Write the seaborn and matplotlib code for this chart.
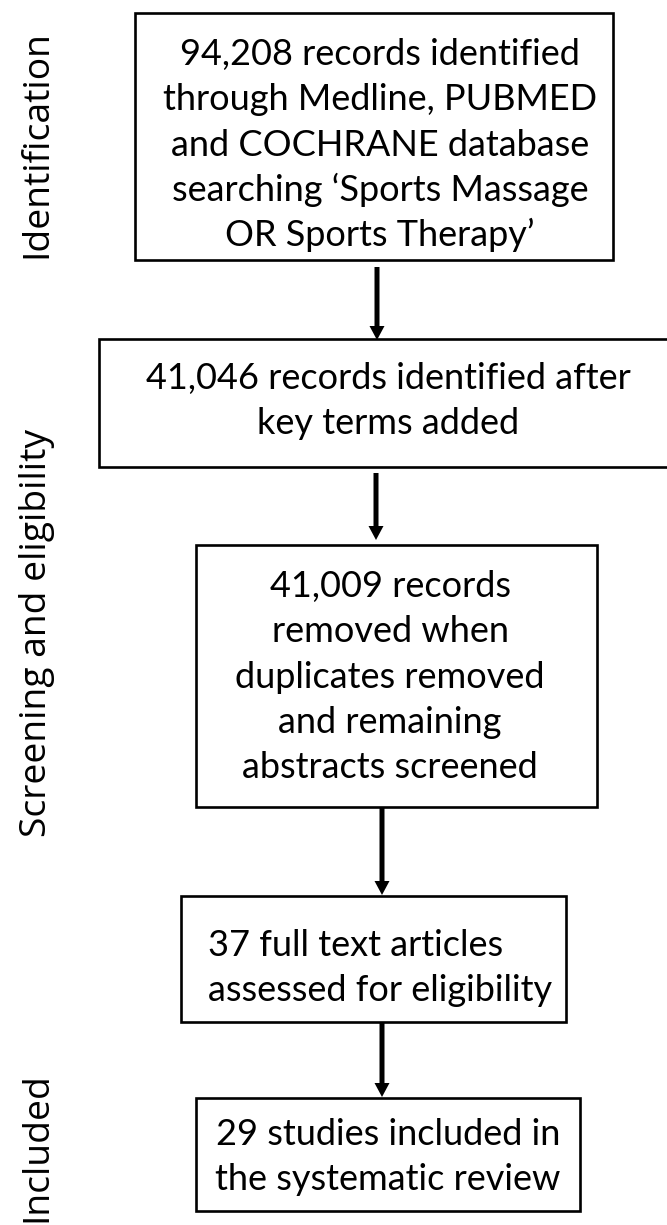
import matplotlib
matplotlib.use("Agg")
import matplotlib.pyplot as plt
from matplotlib.patches import Rectangle
import seaborn as sns

# stage names written down the left side
stages = ["Identification", "Screening and eligibility", "Included"]

# lines of text inside each box of the flow
box_texts = [
    ["94,208 records identified", "through Medline, PUBMED", "and COCHRANE database",
     "searching \u2018Sports Massage", "OR Sports Therapy\u2019"],
    ["41,046 records identified after", "key terms added"],
    ["41,009 records", "removed when", "duplicates removed", "and remaining",
     "abstracts screened"],
    ["37 full text articles", "assessed for eligibility"],
    ["29 studies included in", "the systematic review"],
]

# layout in pixels (left, top, right, bottom)
boxes = [(135, 13, 613, 260), (99, 339, 677, 467), (196, 545, 597, 807),
         (181, 896, 566, 1022), (196, 1098, 580, 1211)]
text_x = [380, 388, 390, 208, 388]
text_cy = [144, 400, 676, 967, 1156]
text_ha = ["center", "center", "center", "left", "center"]
arrows = [(377, 267, 340), (376, 473, 540), (382, 807, 895), (382, 1023, 1097)]
stage_cy = [144, 633, 1147]

sns.set_theme(style="white")
W, H = 667, 1225
fig = plt.figure(figsize=(W / 100, H / 100), dpi=100)
ax = fig.add_axes([0, 0, 1, 1])
ax.set_xlim(0, W)
ax.set_ylim(H, 0)
ax.axis("off")

line_h = 45.5
cap = 23
for (l, t, r, b), lines, x, cy, ha in zip(boxes, box_texts, text_x, text_cy, text_ha):
    ax.add_patch(Rectangle((l, t), r - l, b - t, facecolor="white",
                           edgecolor="black", lw=1.9))
    n = len(lines)
    for k, s in enumerate(lines):
        y = cy + cap / 2 - (n - 1) * line_h / 2 + k * line_h
        ax.text(x, y, s, ha=ha, va="baseline", fontsize=26,
                family=["Lato", "DejaVu Sans"], color="black")

for x, y0, y1 in arrows:
    ax.arrow(x, y0, 0, y1 - y0, width=5, head_width=15, head_length=14,
             length_includes_head=True, color="black", lw=0)

for s, cy in zip(stages, stage_cy):
    ax.text(46, cy, s, rotation=90, rotation_mode="anchor", ha="center",
            va="baseline", fontsize=26.8, family=["Open Sans", "DejaVu Sans"],
            color="black")

fig.savefig("out.png", dpi=100)
